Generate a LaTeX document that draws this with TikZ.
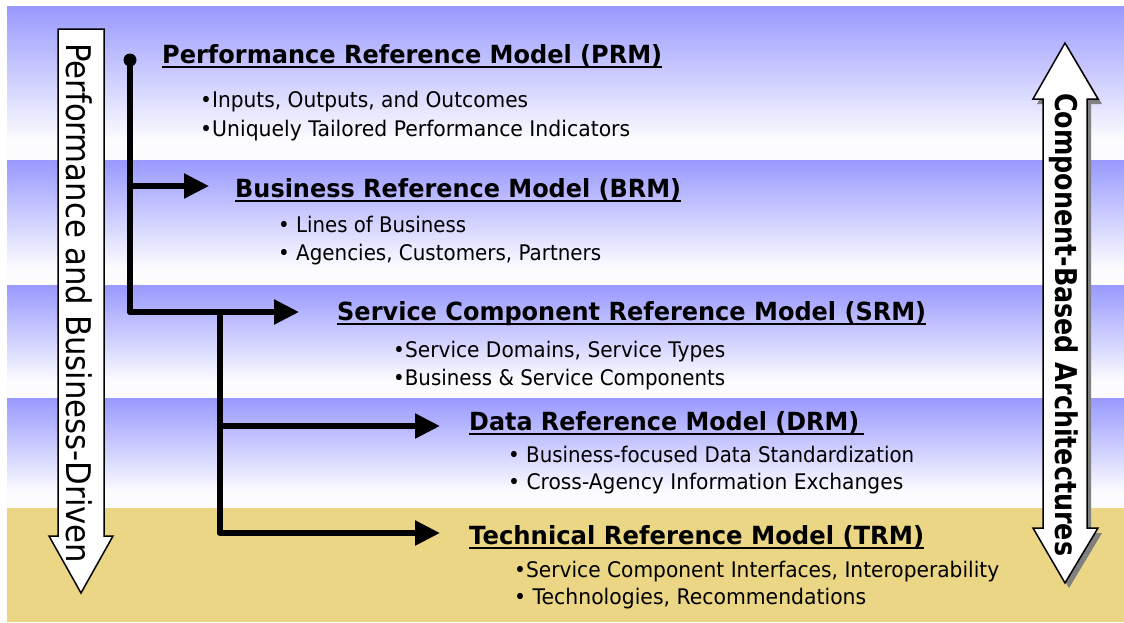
\documentclass[tikz,border=0pt]{standalone}
\usepackage{fontspec}
\setmainfont{DejaVu Sans}
\usetikzlibrary{arrows.meta}
\definecolor{bandblue}{RGB}{153,153,255}
\definecolor{bandwhite}{RGB}{252,252,255}
\definecolor{bandtan}{RGB}{234,214,132}
\definecolor{shadowgrey}{RGB}{128,128,128}
\newcommand\fitw[2]{\resizebox{#1}{\height}{#2}}
\begin{document}
\begin{tikzpicture}[x=1pt,y=-1pt,
  title/.style={anchor=base west, inner sep=0pt, font=\fontsize{25}{28}\selectfont\bfseries},
  item/.style={anchor=base west, inner sep=0pt, font=\fontsize{21.5}{24}\selectfont},
  trunk/.style={line width=5.5pt, line cap=round},
  link/.style={line width=5.5pt, line cap=round, -{Triangle[length=25pt,width=24pt]}},
  uline/.style={line width=2.5pt},
  arrowbox/.style={draw=black, line width=1.5pt, fill=white, line join=miter}]

\useasboundingbox (0,0) rectangle (1124,622);

% background bands
\shade[top color=bandblue,bottom color=bandwhite] (7,6) rectangle (1124,140);
\fill[bandwhite] (7,140) rectangle (1124,160);
\shade[top color=bandblue,bottom color=bandwhite] (7,160) rectangle (1124,268);
\fill[bandwhite] (7,268) rectangle (1124,285);
\shade[top color=bandblue,bottom color=bandwhite] (7,285) rectangle (1124,382);
\fill[bandwhite] (7,382) rectangle (1124,398);
\shade[top color=bandblue,bottom color=bandwhite] (7,398) rectangle (1124,492);
\fill[bandwhite] (7,492) rectangle (1124,508);
\fill[bandtan] (7,508) rectangle (1124,622);

% left arrow
\draw[arrowbox] (58,29) -- (104,29) -- (104,536) -- (113,536) -- (81,593)
  -- (49,536) -- (58,536) -- cycle;
\node[rotate=-90, anchor=base west, inner sep=0pt, font=\fontsize{34}{36}\selectfont]
  (lefttxt) at (66,43) {\fitw{520pt}{Performance and Business-Driven}};

% right double arrow with shadow
\fill[shadowgrey, shift={(4pt,-5pt)}] (1065,43) -- (1098,99) -- (1087,99) -- (1087,528) -- (1098,528)
  -- (1065,583) -- (1033,528) -- (1043,528) -- (1043,99) -- (1033,99) -- cycle;
\draw[arrowbox] (1065,43) -- (1098,99) -- (1087,99) -- (1087,528) -- (1098,528)
  -- (1065,583) -- (1033,528) -- (1043,528) -- (1043,99) -- (1033,99) -- cycle;
\node[rotate=-90, anchor=base west, inner sep=0pt, font=\fontsize{30}{34}\selectfont\bfseries]
  (righttxt) at (1055,93) {\fitw{463pt}{Component-Based Architectures}};

% titles
\node[title] (prm) at (162,63) {\fitw{500pt}{Performance Reference Model (PRM)}};
\node[title] (brm) at (235,197) {\fitw{446pt}{Business Reference Model (BRM)}};
\node[title] (srm) at (337,320) {\fitw{589pt}{Service Component Reference Model (SRM)}};
\node[title] (drm) at (469,430) {\fitw{390pt}{Data Reference Model (DRM)}};
\node[title] (trm) at (469,544) {\fitw{455pt}{Technical Reference Model (TRM)}};
\foreach \t in {prm,brm,srm,trm}
  \draw[uline] ([yshift=-4pt]\t.base west) -- ([yshift=-4pt]\t.base east);
\draw[uline] ([yshift=-4pt]drm.base west) -- ([yshift=-4pt,xshift=5pt]drm.base east);

% items
\node[item] (prm1) at (200,107) {\fitw{328pt}{•Inputs, Outputs, and Outcomes}};
\node[item] (prm2) at (200,136) {\fitw{430pt}{•Uniquely Tailored Performance Indicators}};
\node[item] (brm1) at (278,232) {\fitw{188pt}{• Lines of Business}};
\node[item] (brm2) at (278,260) {\fitw{323pt}{• Agencies, Customers, Partners}};
\node[item] (srm1) at (393,357) {\fitw{332pt}{•Service Domains, Service Types}};
\node[item] (srm2) at (393,385) {\fitw{332pt}{•Business \& Service Components}};
\node[item] (drm1) at (508,462) {\fitw{406pt}{• Business-focused Data Standardization}};
\node[item] (drm2) at (508,489) {\fitw{395pt}{• Cross-Agency Information Exchanges}};
\node[item] (trm1) at (514,577) {\fitw{485pt}{•Service Component Interfaces, Interoperability}};
\node[item] (trm2) at (514,604) {\fitw{352pt}{• Technologies, Recommendations}};

% connectors
\coordinate (c0) at (130,60);
\coordinate (j1) at (130,186);
\coordinate (j2) at (130,312);
\coordinate (j3) at (220,312);
\coordinate (j4) at (220,426);
\coordinate (j5) at (220,533);
\coordinate (tb) at (209,186);
\coordinate (ts) at (299,312);
\coordinate (td) at (440,426);
\coordinate (tt) at (440,533);
\fill (c0) circle (6.5pt);
\draw[trunk] (c0) -- (j2);
\draw[link] (j1) -- (tb);
\draw[link] (j2) -- (ts);
\draw[trunk] (j3) -- (j5);
\draw[link] (j4) -- (td);
\draw[link] (j5) -- (tt);
\end{tikzpicture}
\end{document}
